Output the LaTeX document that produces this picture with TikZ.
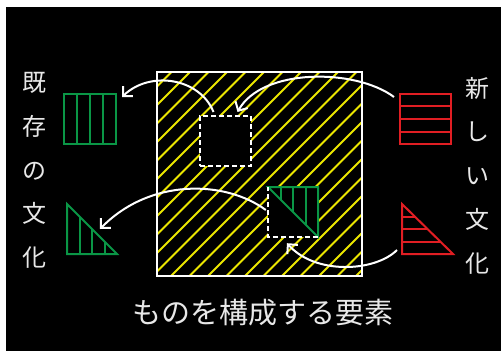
\documentclass[tikz,border=0pt]{standalone}
\usepackage{fontspec}
\newfontfamily\cjk{Noto Sans CJK JP}
\usetikzlibrary{arrows.meta,calc}
\definecolor{hgreen}{RGB}{10,150,70}
\definecolor{hred}{RGB}{225,30,35}
\definecolor{hyellow}{RGB}{235,230,0}
\definecolor{txt}{RGB}{232,232,232}
\tikzset{
  gline/.style={draw=hgreen, line width=2pt},
  rline/.style={draw=hred, line width=2pt},
  dbox/.style={draw=white, line width=2pt, dash pattern=on 5pt off 3pt},
  flow/.style={draw=white, line width=2pt, -{Straight Barb[length=7pt,width=14pt,line width=2pt]}},
  vtext/.style={align=center, text=txt, inner sep=0pt, font=\cjk\fontsize{24}{43.75}\selectfont},
}
\begin{document}
\begin{tikzpicture}[x=1pt,y=-1pt]
\useasboundingbox (0,0) rectangle (501,351);
\fill[white] (0,0) rectangle (501,351);
\fill[black] (6,7) rectangle (501,351);
% main square with hatch
\node[minimum width=205pt, minimum height=204pt, inner sep=0pt] (main) at (259.5,174) {};
\begin{scope}
  \clip (main.north west) rectangle (main.south east);
  \foreach \k in {0,...,24} {
    \draw[hyellow, line width=1.8pt] (\k*18.5-65,290) -- ++(240,-240);
  }
\end{scope}
% dashed boxes (holes)
\fill[black] (200,116) rectangle (251,166);
\fill[black] (268,187) rectangle (318,237);
\node[dbox, minimum width=51pt, minimum height=50pt, inner sep=0pt] (hole1) at (225.5,141) {};
% green triangle inside hole 2
\draw[gline] (268,187) -- (318,187) -- (318,237) -- cycle;
\draw[gline] (281,187) -- (281,200) (293,187) -- (293,212) (306,187) -- (306,225);
\draw[dbox] (318,237) -- (268,237) -- (268,187);
\node[minimum width=50pt, minimum height=50pt, inner sep=0pt] (hole2) at (293,212) {};
\draw[white, line width=2pt] (main.north west) rectangle (main.south east);
% green rect
\node[gline, minimum width=52pt, minimum height=50pt, inner sep=0pt] (grect) at (90,119) {};
\draw[gline] (77,94) -- (77,144) (90,94) -- (90,144) (103,94) -- (103,144);
% green triangle
\coordinate (gtri) at (67,204);
\draw[gline] (gtri) -- (67,254) -- (117,254) -- cycle;
\draw[gline] (80,254) -- (80,217) (92,254) -- (92,229) (105,254) -- (105,242);
% red rect
\node[rline, minimum width=51pt, minimum height=50pt, inner sep=0pt] (rrect) at (425.5,119) {};
\draw[rline] (400,106) -- (451,106) (400,119) -- (451,119) (400,132) -- (451,132);
% red triangle
\coordinate (rtri) at (402,204);
\draw[rline] (rtri) -- (402,254) -- (453,254) -- cycle;
\draw[rline] (402,217) -- (415.3,217) (402,229) -- (427.5,229) (402,242) -- (440.8,242);
% arrows
\draw[flow] ($(hole1.north)+(-12,-3)$) .. controls (200,78) and (150,70) .. ($(grect.north east)+(5,4)$);
\draw[flow] ($(rrect.north west)+(-5,4)$) .. controls (355,68) and (262,68) .. ($(hole1.north)+(12,-3)$);
\draw[flow] ($(hole2.west)+(-2,-2)$) .. controls (225,180) and (150,178) .. ($(gtri)+(33,25)$);
\draw[flow] ($(rtri)+(-5,46)$) .. controls (375,272) and (315,275) .. ($(hole2.south)+(-6,6)$);
% texts
\node[vtext] (old) at (34,170.5) {既\\存\\の\\文\\化};
\node[vtext] (new) at (477,175.5) {新\\し\\い\\文\\化};
\node[text=txt, inner sep=0pt, font=\cjk\fontsize{29}{30}\selectfont] (cap) at (263,313) {ものを構成する要素};
\end{tikzpicture}
\end{document}
